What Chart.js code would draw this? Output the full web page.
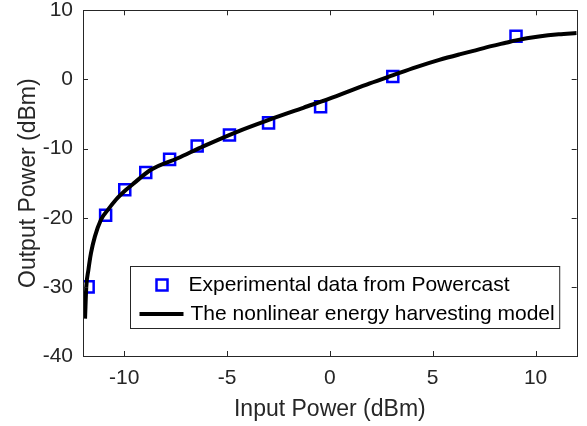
<!DOCTYPE html>
<html>
<head>
<meta charset="utf-8">
<script src="https://cdn.jsdelivr.net/npm/chart.js@4/dist/chart.umd.min.js"></script>
<style>
  body { margin: 0; background: #fff; }
  #wrap { width: 587px; height: 426px; }
</style>
</head>
<body>
<div id="wrap"><canvas id="myChart" width="587" height="426"></canvas></div>
<script>
// measured points (Powercast)
const expX = [-11.75, -10.9, -9.97, -8.95, -7.79, -6.45, -4.88, -2.98, -0.45, 3.06, 9.05];
const expY = [-30.0, -19.65, -15.95, -13.45, -11.56, -9.64, -8.05, -6.28, -3.96, 0.43, 6.26];

// model curve
const modelX = [-11.9, -11.84, -11.74, -11.61, -11.42, -11.13, -10.8, -10.4, -9.92, -9.52, -8.72, -7.4, -6.13, -4.51, -2.9, -1.29, 0.32, 1.94, 3.08, 4.2, 5.32, 6.3, 6.93, 7.9, 8.55, 9.05, 10.16, 11.13, 12];
const modelY = [-34.6, -30.0, -27.6, -25.1, -22.7, -20.3, -18.9, -17.4, -16.0, -15.0, -13.1, -11.4, -9.64, -7.57, -5.78, -4.1, -2.41, -0.58, 0.62, 1.78, 2.82, 3.62, 4.1, 4.85, 5.3, 5.65, 6.2, 6.52, 6.7];

const xTicks = [-10, -5, 0, 5, 10];
const yTicks = [-40, -30, -20, -10, 0, 10];

const legendLabels = ['Experimental data from Powercast', 'The nonlinear energy harvesting model'];

const axisColor = '#262626';
const fontFam = '"Liberation Sans", Arial, sans-serif';

// box round the axes + ticks pointing inward, like matlab
const boxPlugin = {
  id: 'boxTicks',
  afterDatasetsDraw(chart) {
    const ctx = chart.ctx;
    const ca = chart.chartArea;
    const xs = chart.scales.x, ys = chart.scales.y;
    const tl = 5;
    ctx.save();
    ctx.strokeStyle = axisColor;
    ctx.lineWidth = 1;
    ctx.beginPath();
    xTicks.forEach(v => {
      const px = Math.round(xs.getPixelForValue(v)) + 0.5;
      ctx.moveTo(px, ca.bottom); ctx.lineTo(px, ca.bottom - tl);
      ctx.moveTo(px, ca.top); ctx.lineTo(px, ca.top + tl);
    });
    yTicks.forEach(v => {
      const py = Math.round(ys.getPixelForValue(v)) + 0.5;
      ctx.moveTo(ca.left, py); ctx.lineTo(ca.left + tl, py);
      ctx.moveTo(ca.right, py); ctx.lineTo(ca.right - tl, py);
    });
    ctx.stroke();
    ctx.strokeRect(Math.round(ca.left) + 0.5, Math.round(ca.top) + 0.5,
      Math.round(ca.right - ca.left), Math.round(ca.bottom - ca.top));
    ctx.restore();
  },
  afterDraw(chart) {
    // legend inside the plot, bottom right
    const ctx = chart.ctx;
    const ca = chart.chartArea;
    const ds0 = chart.data.datasets[1], ds1 = chart.data.datasets[0];
    ctx.save();
    ctx.font = '21px ' + fontFam;
    const tw = Math.max(...legendLabels.map(t => ctx.measureText(t).width));
    const bw = 58 + tw + 7;
    const bh = 62;
    const bx = Math.round(ca.right - 17 - bw) + 0.5;
    const by = Math.round(ca.bottom - 28 - bh) + 0.5;
    ctx.fillStyle = '#fff';
    ctx.fillRect(bx, by, bw, bh);
    ctx.strokeStyle = axisColor;
    ctx.lineWidth = 1;
    ctx.strokeRect(bx, by, bw, bh);

    const r1 = by + 18.5, r2 = by + 47.5;
    // square marker
    ctx.strokeStyle = ds0.borderColor;
    ctx.lineWidth = ds0.borderWidth;
    ctx.strokeRect(bx + 26, r1 - 5.5, 11, 11);
    // line sample
    ctx.strokeStyle = ds1.borderColor;
    ctx.lineWidth = ds1.borderWidth;
    ctx.beginPath();
    ctx.moveTo(bx + 9, r2); ctx.lineTo(bx + 53, r2);
    ctx.stroke();

    ctx.fillStyle = '#000';
    ctx.textBaseline = 'middle';
    ctx.fillText(legendLabels[0], bx + 58, r1);
    ctx.fillText(legendLabels[1], bx + 60, r2);
    ctx.restore();
  }
};

const ctx = document.getElementById('myChart');

new Chart(ctx, {
  type: 'scatter',
  data: {
    datasets: [{
      label: legendLabels[1],
      data: modelX.map((x, i) => ({x: x, y: modelY[i]})),
      showLine: true,
      borderColor: '#000',
      borderWidth: 4,
      pointRadius: 0,
      cubicInterpolationMode: 'monotone',
      fill: false
    }, {
      label: legendLabels[0],
      data: expX.map((x, i) => ({x: x, y: expY[i]})),
      pointStyle: 'rect',
      pointRadius: 7.8,
      pointBorderWidth: 2.5,
      borderWidth: 2.5,
      borderColor: '#0000ff',
      pointBorderColor: '#0000ff',
      pointBackgroundColor: 'rgba(0,0,0,0)',
      backgroundColor: 'rgba(0,0,0,0)'
    }]
  },
  options: {
    responsive: false,
    animation: false,
    layout: { padding: { top: 10, right: 10, left: 0, bottom: 0 } },
    plugins: {
      legend: { display: false },
      tooltip: { enabled: false }
    },
    scales: {
      x: {
        type: 'linear',
        min: -12, max: 12,
        afterBuildTicks: s => { s.ticks = xTicks.map(v => ({value: v})); },
        afterFit: s => { s.height = 70; s.paddingLeft = 0; s.paddingRight = 0; },
        grid: { display: false, drawTicks: false },
        border: { display: false },
        ticks: { color: axisColor, font: { family: fontFam, size: 21, lineHeight: 1 }, padding: 12, maxRotation: 0 },
        title: { display: true, text: 'Input Power (dBm)', color: axisColor, font: { family: fontFam, size: 23 }, padding: { top: 0, bottom: 3 } }
      },
      y: {
        type: 'linear',
        min: -40, max: 10,
        afterBuildTicks: s => { s.ticks = yTicks.map(v => ({value: v})); },
        afterFit: s => { s.width = 83; s.paddingTop = 0; s.paddingBottom = 0; },
        grid: { display: false, drawTicks: false },
        border: { display: false },
        ticks: { color: axisColor, font: { family: fontFam, size: 21, lineHeight: 1 }, padding: 10 },
        title: { display: true, text: 'Output Power (dBm)', color: axisColor, font: { family: fontFam, size: 23 }, padding: { top: 15, bottom: 0 } }
      }
    }
  },
  plugins: [boxPlugin]
});
</script>
</body>
</html>
